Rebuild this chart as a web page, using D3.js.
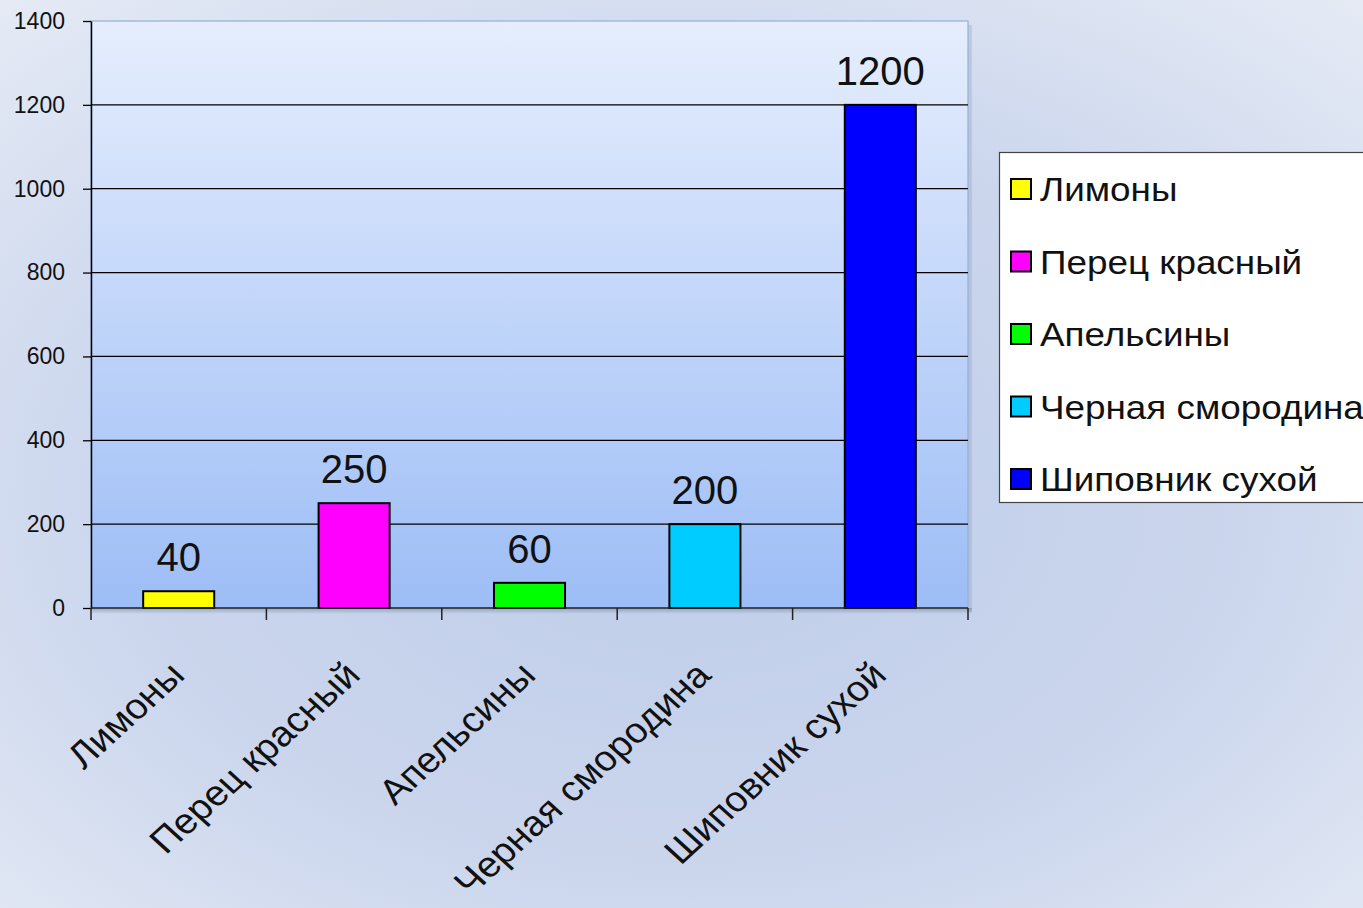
<!DOCTYPE html>
<html><head><meta charset="utf-8">
<script src="https://cdn.jsdelivr.net/npm/d3@7"></script>
<style>html,body{margin:0;padding:0;overflow:hidden;}svg{display:block;}</style>
</head><body>
<svg id="c" width="1363" height="908"></svg>
<script>
const categories = ["Лимоны","Перец красный","Апельсины","Черная смородина","Шиповник сухой"];
const values = [40, 250, 60, 200, 1200];
const colors = ["#ffff00","#ff00ff","#00ff00","#00ccff","#0000ff"];
const yTicks = [0,200,400,600,800,1000,1200,1400];

const W = 1363, H = 908;
const svg = d3.select("#c");
const font = "Arial, 'Liberation Sans', sans-serif";
const defs = svg.append("defs");

const bg = defs.append("radialGradient").attr("id","bg").attr("cx","50%").attr("cy","55%").attr("r","75%");
bg.append("stop").attr("offset","0%").attr("stop-color","#bfcde9");
bg.append("stop").attr("offset","55%").attr("stop-color","#cbd6ed");
bg.append("stop").attr("offset","100%").attr("stop-color","#e6ebf5");
svg.append("rect").attr("width",W).attr("height",H).attr("fill","url(#bg)");

const pg = defs.append("linearGradient").attr("id","pg").attr("x1",0).attr("y1",0).attr("x2",0).attr("y2",1);
pg.append("stop").attr("offset","0%").attr("stop-color","#e6eefd");
pg.append("stop").attr("offset","100%").attr("stop-color","#9dbdf6");

const sh = defs.append("linearGradient").attr("id","sh").attr("x1",0).attr("y1",0).attr("x2",0).attr("y2",1);
sh.append("stop").attr("offset","0%").attr("stop-color","#5a6a88").attr("stop-opacity",0.45);
sh.append("stop").attr("offset","100%").attr("stop-color","#5a6a88").attr("stop-opacity",0);

const L = 91, R = 968, T = 21, B = 608;
const x = d3.scaleBand().domain(categories).range([L, R]).padding(0);
const y = d3.scaleLinear().domain([0, 1400]).range([B, T]);

// shadow under plot
svg.append("rect").attr("x",L).attr("y",B).attr("width",R-L+4).attr("height",6).attr("fill","url(#sh)");
svg.append("rect").attr("x",R).attr("y",T+4).attr("width",4).attr("height",B-T).attr("fill","#7d8fb0").attr("opacity",0.25);

// plot area
svg.append("rect").attr("x",L).attr("y",T).attr("width",R-L).attr("height",B-T)
  .attr("fill","url(#pg)").attr("stroke","#94aed6").attr("stroke-width",1.2);

// gridlines
svg.append("g").selectAll("line").data(yTicks.filter(d => d > 0 && d < 1400)).join("line")
  .attr("x1",L).attr("x2",R).attr("y1",d=>y(d)).attr("y2",d=>y(d))
  .attr("stroke","#000").attr("stroke-width",1.2);

// y axis
const ya = svg.append("g").attr("transform",`translate(${L},0)`)
  .call(d3.axisLeft(y).tickValues(yTicks).tickFormat(d3.format("d")).tickSize(8).tickPadding(18).tickSizeOuter(0));
ya.select(".domain").attr("stroke","#000").attr("stroke-width",1.5);
ya.selectAll(".tick line").attr("stroke","#000").attr("stroke-width",1.3);
ya.selectAll(".tick text").attr("font-family",font).attr("font-size",23).attr("fill","#111");

// bars
const bw = x.bandwidth() * 0.405;
svg.append("g").selectAll("rect").data(values).join("rect")
  .attr("x",(d,i)=>x(categories[i]) + x.bandwidth()/2 - bw/2)
  .attr("y",d=>y(d)).attr("width",bw).attr("height",d=>B - y(d))
  .attr("fill",(d,i)=>colors[i]).attr("stroke","#000").attr("stroke-width",2);

// value labels
svg.append("g").selectAll("text").data(values).join("text")
  .attr("x",(d,i)=>x(categories[i]) + x.bandwidth()/2)
  .attr("y",d=>y(d) - 20)
  .attr("text-anchor","middle").attr("font-family",font).attr("font-size",40).attr("fill","#111")
  .text(d=>d);

// x axis line & ticks
svg.append("line").attr("x1",L).attr("x2",R).attr("y1",B).attr("y2",B).attr("stroke","#222").attr("stroke-width",1.5);
const xt = categories.map(c => x(c)).concat([x.range()[1]]);
svg.append("g").selectAll("line").data(xt).join("line")
  .attr("x1",d=>d).attr("x2",d=>d).attr("y1",B).attr("y2",B+12)
  .attr("stroke","#222").attr("stroke-width",1.5);

// x labels
svg.append("g").selectAll("text").data(categories).join("text")
  .attr("transform",c=>`translate(${x(c)+x.bandwidth()/2+8},677) scale(1.1,1) rotate(-45)`)
  .attr("text-anchor","end").attr("font-family",font).attr("font-size",35.5).attr("fill","#111")
  .text(c=>c);

// legend
const lg = svg.append("g");
lg.append("rect").attr("x",999.5).attr("y",152.5).attr("width",420).attr("height",350)
  .attr("fill","#fff").attr("stroke","#444").attr("stroke-width",1.2);
const ly = d3.scalePoint().domain(categories).range([189, 479]);
const li = lg.selectAll("g.it").data(categories).join("g").attr("class","it")
  .attr("transform",c=>`translate(0,${ly(c)})`);
li.append("rect").attr("x",1011).attr("y",-10).attr("width",20).attr("height",20)
  .attr("fill",(c,i)=>colors[i]).attr("stroke","#000").attr("stroke-width",2);
li.append("text").attr("transform","translate(1040,12) scale(1.1,1)")
  .attr("font-family",font).attr("font-size",33.5).attr("fill","#111")
  .text(c=>c);
</script>
</body></html>
